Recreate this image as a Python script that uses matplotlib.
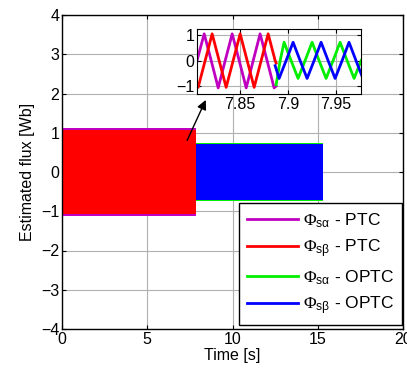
import matplotlib
matplotlib.use("Agg")
import matplotlib.pyplot as plt
from matplotlib.lines import Line2D

plt.rcParams['font.family'] = ['Liberation Sans', 'DejaVu Sans']
plt.rcParams['mathtext.fontset'] = 'custom'
plt.rcParams['mathtext.rm'] = 'Liberation Serif'
plt.rcParams['mathtext.sf'] = 'Liberation Sans'
plt.rcParams['mathtext.it'] = 'Liberation Sans'

# series names / colours
labels = [r'$\Phi_{\mathsf{s}\alpha}$ - PTC', r'$\Phi_{\mathsf{s}\beta}$ - PTC',
          r'$\Phi_{\mathsf{s}\alpha}$ - OPTC', r'$\Phi_{\mathsf{s}\beta}$ - OPTC']
colors = ['#c000c0', '#ff0000', '#00ee00', '#0000ff']

# main plot: envelope of the fast oscillation (time span, amplitude)
ptc_span = [0.0, 7.887]
optc_span = [7.887, 15.3]
ptc_alpha_amp = 1.12
ptc_beta_amp = 1.08
optc_alpha_amp = 0.75
optc_beta_amp = 0.71

# zoomed window, points
ptc_alpha_t = [7.805, 7.8125, 7.8198, 7.8271, 7.8344, 7.8417, 7.849, 7.8563,
               7.8636, 7.8708, 7.8781, 7.8854, 7.8875]
ptc_alpha_v = [0.0, 1.05, 0, -1.07, 0, 1.05, 0, -1.07, 0, 1.05, 0, -1.07, -1.0]
ptc_beta_t = [7.805, 7.8062, 7.8135, 7.8208, 7.8281, 7.8354, 7.8427, 7.85,
              7.8573, 7.8646, 7.8719, 7.8792, 7.8865, 7.8875]
ptc_beta_v = [-1.03, -1.05, 0, 1.05, 0, -1.05, 0, 1.05, 0, -1.05, 0, 1.05, 0, -0.1]
optc_alpha_t = [7.8875, 7.8917, 7.8958, 7.9031, 7.9104, 7.9177, 7.925, 7.9323,
                7.9396, 7.9469, 7.9542, 7.9615, 7.9688, 7.9761]
optc_alpha_v = [-0.95, 0, 0.72, 0, -0.7, 0, 0.72, 0, -0.7, 0, 0.72, 0, -0.7, 0]
optc_beta_t = [7.8865, 7.8906, 7.8979, 7.9052, 7.9125, 7.9198, 7.9271, 7.9344,
               7.9417, 7.949, 7.9563, 7.9635, 7.9708, 7.978]
optc_beta_v = [-0.2, -0.7, 0, 0.72, 0, -0.7, 0, 0.72, 0, -0.7, 0, 0.72, 0, -0.7]

fig = plt.figure(figsize=(4.07, 3.73), dpi=100)
ax = fig.add_axes([62/407, 1-329/373, 341/407, 314/373])

ax.fill_between(ptc_span, -ptc_alpha_amp, ptc_alpha_amp, color=colors[0], lw=0)
ax.fill_between(ptc_span, -ptc_beta_amp, ptc_beta_amp, color=colors[1], lw=0)
ax.fill_between(optc_span, -optc_alpha_amp, optc_alpha_amp, color=colors[2], lw=0)
ax.fill_between(optc_span, -optc_beta_amp, optc_beta_amp, color=colors[3], lw=0)

ax.set_xlim(0, 20)
ax.set_ylim(-4, 4)
ax.set_xticks([0, 5, 10, 15, 20])
ax.set_yticks(range(-4, 5))
ax.grid(True, color='#b0b0b0', lw=0.8)
ax.set_axisbelow(True)
ax.tick_params(direction='in', top=True, right=True, labelsize=11.5, length=3, pad=2)
ax.set_xlabel('Time [s]', fontsize=11.5, labelpad=1)
ax.set_ylabel('Estimated flux [Wb]', fontsize=11.5, labelpad=4)
for s in ax.spines.values():
    s.set_linewidth(1.0)

handles = [Line2D([], [], color=c, lw=2) for c in colors]
leg = ax.legend(handles, labels, loc='lower right', bbox_to_anchor=(0.997, 0.013),
                borderaxespad=0, fontsize=12.5, handlelength=2.9, labelspacing=0.45,
                handletextpad=0.3, fancybox=False, framealpha=1, edgecolor='black',
                borderpad=0.45)
leg.get_frame().set_linewidth(1.0)

ax.annotate('', xy=(8.5, 1.9), xytext=(7.27, 0.74),
            arrowprops=dict(arrowstyle='-|>', color='black', lw=1, mutation_scale=14))

ins = fig.add_axes([197/407, 1-94/373, 164/407, 65/373])
ins.plot(ptc_alpha_t, ptc_alpha_v, color=colors[0], lw=2)
ins.plot(ptc_beta_t, ptc_beta_v, color=colors[1], lw=2)
ins.plot(optc_alpha_t, optc_alpha_v, color=colors[2], lw=2)
ins.plot(optc_beta_t, optc_beta_v, color=colors[3], lw=2)
ins.set_xlim(7.805, 7.976)
ins.set_ylim(-1.31, 1.24)
ins.set_xticks([7.85, 7.9, 7.95])
ins.set_xticklabels(['7.85', '7.9', '7.95'])
ins.set_yticks([-1, 0, 1])
ins.grid(True, color='#b0b0b0', lw=0.8)
ins.set_axisbelow(True)
ins.tick_params(direction='in', top=True, right=True, labelsize=11.5, length=3, pad=2)

fig.savefig('out.png', dpi=100)
